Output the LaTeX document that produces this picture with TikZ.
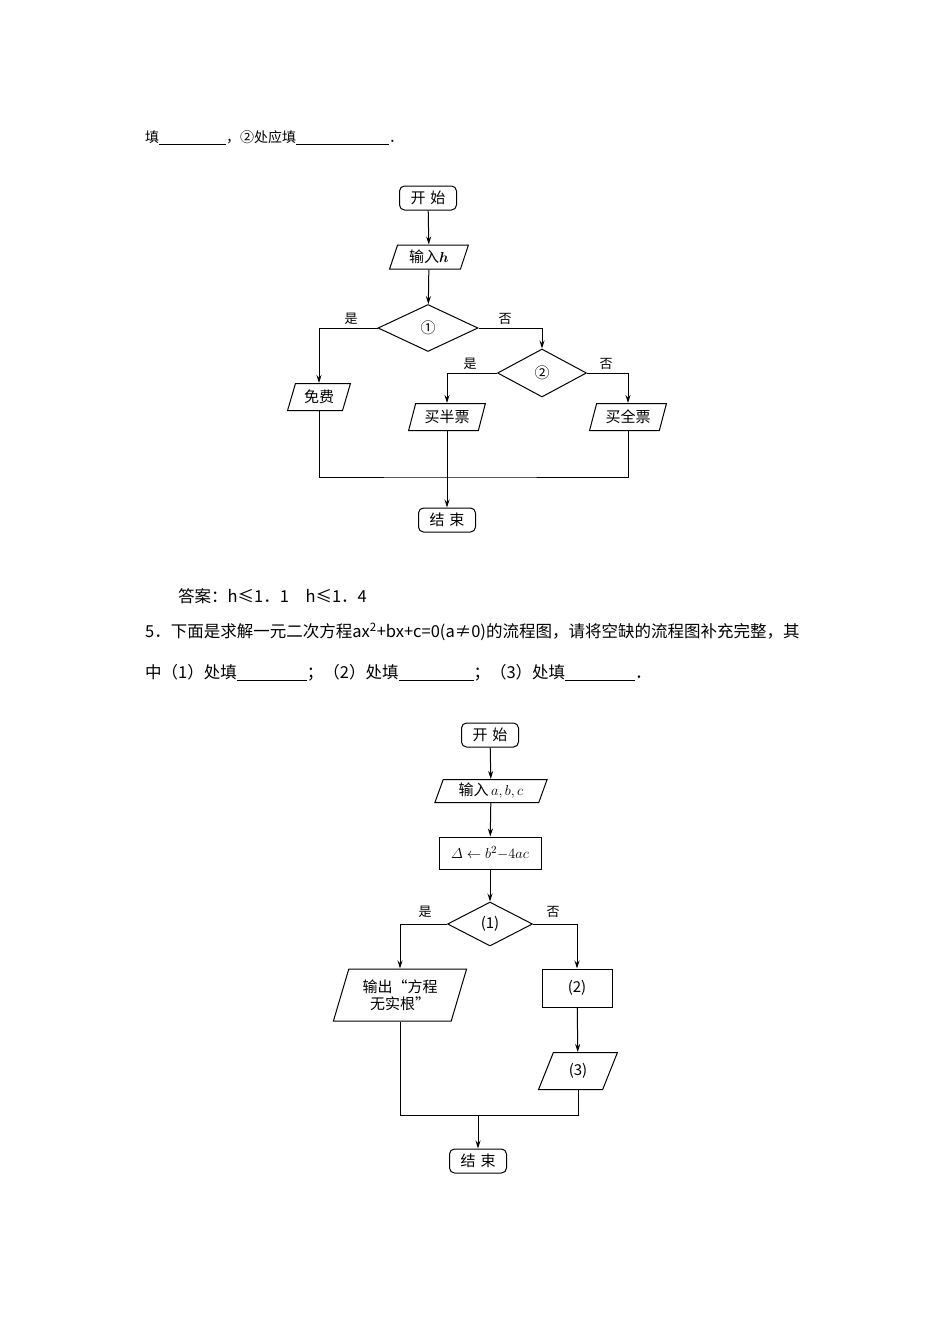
\documentclass[tikz,border=0pt]{standalone}
\usepackage{amsmath}
\usepackage{fontspec}
\setmainfont{Noto Sans CJK SC}
\usetikzlibrary{shapes.geometric,arrows.meta}
\tikzset{
  base/.style={draw,line width=1pt,font=\fontsize{15}{17}\selectfont,inner sep=0pt},
  term/.style={base,rounded corners=5pt,minimum width=57pt,minimum height=24pt},
  io/.style={base,trapezium,trapezium left angle=70,trapezium right angle=110,trapezium stretches=true},
  proc/.style={base,rectangle},
  dec/.style={base,diamond,aspect=2},
  ln/.style={line width=1pt},
  ar/.style={ln,-{Stealth[length=8pt,width=5pt]}},
  lab/.style={font=\fontsize{13}{15}\selectfont},
  txt/.style={anchor=west,font=\fontsize{14}{16}\selectfont,inner sep=0pt},
  txtb/.style={anchor=west,font=\fontsize{16.5}{18}\selectfont,inner sep=0pt}
}
\begin{document}
\begin{tikzpicture}[x=1pt,y=-1pt]
\useasboundingbox[fill=white] (0,0) rectangle (950,1344);
% text
\node[txt] (t1) at (145,138) {填\rule[-2pt]{67pt}{0.5pt}，②处应填\rule[-2pt]{93pt}{0.5pt}．};
\node[txtb] (t2) at (178,596) {答案：h≤1．1\quad h≤1．4};
\node[txtb] (t3) at (145,632) {5．下面是求解一元二次方程ax\textsuperscript{2}+bx+c=0(a≠0)的流程图，请将空缺的流程图补充完整，其};
\node[txtb] (t4) at (145,673) {中（1）处填\rule[-2pt]{70pt}{0.5pt}；（2）处填\rule[-2pt]{75pt}{0.5pt}；（3）处填\rule[-2pt]{70pt}{0.5pt}．};
% diagram 1
\node[term] (s1) at (428,198) {开\,\,始};
\node[io,minimum width=79pt,minimum height=24pt] (in1) at (429,257) {输入$\boldsymbol{h}$};
\node[dec,minimum width=100pt,minimum height=47pt] (d1) at (428,328) {①};
\node[dec,minimum width=89pt,minimum height=48pt] (d2) at (542,373) {②};
\node[io,minimum width=63pt,minimum height=27pt] (mf) at (319,397) {免费};
\node[io,minimum width=77pt,minimum height=27pt] (bb) at (447,417) {买半票};
\node[io,minimum width=77pt,minimum height=27pt] (qb) at (628,417) {买全票};
\node[term] (e1) at (447,520) {结\,\,束};
\coordinate (m1) at (447,477);
\draw[ar] (s1) -- (in1);
\draw[ar] (in1) -- (d1);
\draw[ar] (d1.west) -| (mf.north);
\draw[ar] (d1.east) -| (d2.north);
\draw[ar] (d2.west) -| (bb.north);
\draw[ar] (d2.east) -| (qb.north);
\draw[ln] (mf.south) |- (m1) -| (qb.south);
\draw[ar] (bb.south) |- (m1) -- (e1.north);
\node[lab] (l1) at (351,319) {是};
\node[lab] (l2) at (505,319) {否};
\node[lab] (l3) at (470,364) {是};
\node[lab] (l4) at (606,364) {否};
% diagram 2
\node[term] (s2) at (490,735) {开\,\,始};
\node[io,minimum width=113pt,minimum height=23pt] (in2) at (491,791) {输入\,$a,b,c$};
\node[proc,minimum width=102pt,minimum height=32pt] (p1) at (490,853) {$\varDelta\leftarrow b^2{-}4ac$};
\node[dec,minimum width=85pt,minimum height=44pt] (d3) at (490,924) {(1)};
\node[io,minimum width=134pt,minimum height=52pt,align=center] (out) at (400,995) {输出“方程\\无实根”};
\node[proc,minimum width=70pt,minimum height=38pt] (p2) at (577,988) {(2)};
\node[io,minimum width=79pt,minimum height=37pt] (p3) at (578,1071) {(3)};
\node[term] (e2) at (478,1161) {结\,\,束};
\coordinate (m2) at (478,1115);
\draw[ar] (s2) -- (in2);
\draw[ar] (in2) -- (p1);
\draw[ar] (p1) -- (d3);
\draw[ar] (d3.west) -| (out.north);
\draw[ar] (d3.east) -| (p2.north);
\draw[ar] (p2) -- (p3);
\draw[ln] (out.south) |- (m2) -| (p3.south);
\draw[ar] (m2) -- (e2.north);
\node[lab] (l5) at (425,912) {是};
\node[lab] (l6) at (553,912) {否};
\end{tikzpicture}
\end{document}
